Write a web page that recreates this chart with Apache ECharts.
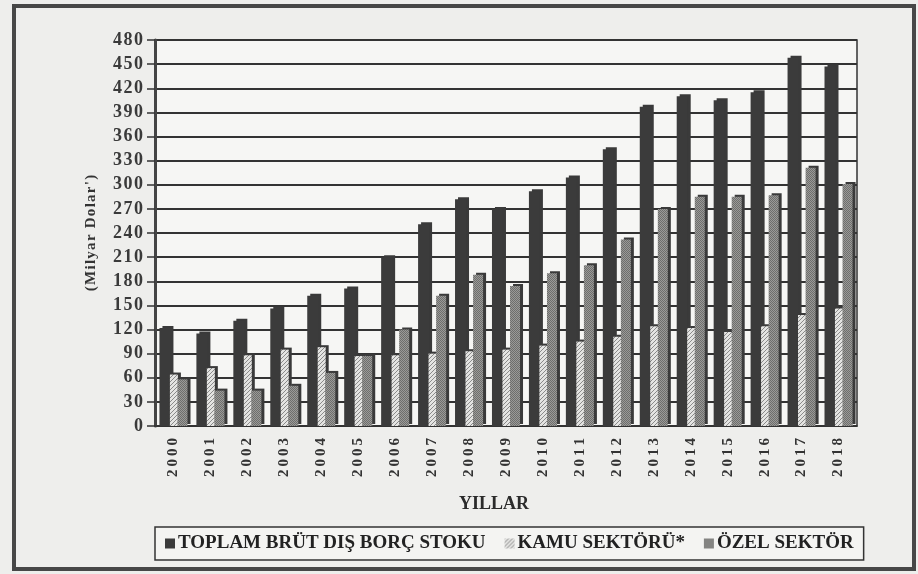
<!DOCTYPE html>
<html lang="tr">
<head>
<meta charset="utf-8">
<title>Dış Borç Stoku</title>
<script src="https://cdn.jsdelivr.net/npm/echarts@6/dist/echarts.min.js"></script>
<style>
  html, body { margin: 0; padding: 0; background: #eeeeec; }
  #chart { width: 918px; height: 574px; }
</style>
</head>
<body>
<div id="chart"></div>
<script>
var years = ['2000', '2001', '2002', '2003', '2004', '2005', '2006', '2007', '2008', '2009',
  '2010', '2011', '2012', '2013', '2014', '2015', '2016', '2017', '2018'];
var toplam = [122, 115, 131, 146, 162, 171, 210, 251, 282, 270, 292, 309, 344, 397, 410, 405, 415, 458, 447];
var kamu = [64, 72, 88, 95, 98, 87, 88, 90, 93, 95, 100, 105, 111, 124, 122, 117, 124, 138, 146];
var ozel = [58, 44, 44, 50, 66, 87, 120, 162, 188, 174, 190, 200, 232, 270, 285, 285, 287, 321, 301];
var yTicks = [0, 30, 60, 90, 120, 150, 180, 210, 240, 270, 300, 330, 360, 390, 420, 450, 480];

var serif = '"Liberation Serif", "DejaVu Serif", serif';

// spread letters a little, the scan has wide type
function spaced(s, sp) { return String(s).split('').join(sp); }

// hatched pattern for kamu bars
function stripes() {
  var c = document.createElement('canvas');
  c.width = 4; c.height = 4;
  var g = c.getContext('2d');
  g.fillStyle = '#e4e4e2';
  g.fillRect(0, 0, 4, 4);
  g.strokeStyle = '#8a8a8a';
  g.lineWidth = 1;
  g.beginPath();
  g.moveTo(0, 4); g.lineTo(4, 0);
  g.moveTo(-1, 1); g.lineTo(1, -1);
  g.moveTo(3, 5); g.lineTo(5, 3);
  g.stroke();
  return c;
}
// dotted grey for özel bars
function dots() {
  var c = document.createElement('canvas');
  c.width = 2; c.height = 2;
  var g = c.getContext('2d');
  g.fillStyle = '#9a9a98';
  g.fillRect(0, 0, 2, 2);
  g.fillStyle = '#6e6e6c';
  g.fillRect(0, 0, 1, 1);
  g.fillRect(1, 1, 1, 1);
  return c;
}

var chart = echarts.init(document.getElementById('chart'));
var shadow = { shadowColor: '#3a3a3a', shadowBlur: 0, shadowOffsetX: 3, shadowOffsetY: -2 };

chart.setOption({
  backgroundColor: '#eeeeec',
  animation: false,
  grid: {
    left: 155, right: 61, top: 40, bottom: 148,
    show: true, backgroundColor: '#f6f6f4', borderColor: '#333', borderWidth: 1.5
  },
  graphic: [
    { type: 'rect', shape: { x: 14, y: 6, width: 900, height: 563 },
      style: { fill: 'none', stroke: '#474747', lineWidth: 4 }, z: -1 },
    { type: 'text', x: 494, y: 504,
      style: { text: 'YILLAR', font: 'bold 18px ' + serif, fill: '#2b2b2b', align: 'center', verticalAlign: 'middle' } }
  ],
  legend: {
    left: 155, top: 527,
    padding: [7, 10],
    borderColor: '#333', borderWidth: 1.5,
    backgroundColor: '#f4f4f2',
    itemWidth: 10, itemHeight: 10, itemGap: 19,
    icon: 'rect',
    textStyle: { fontFamily: serif, fontWeight: 'bold', fontSize: 19, color: '#222', padding: [0, 0, 0, -2] }
  },
  xAxis: {
    type: 'category',
    data: years,
    axisLine: { lineStyle: { color: '#333', width: 1.5 } },
    axisTick: { length: 7, lineStyle: { color: '#333', width: 1.5 } },
    axisLabel: {
      rotate: 90, margin: 12,
      fontFamily: serif, fontWeight: 'bold', fontSize: 15, color: '#333',
      formatter: function (v) { return spaced(v, '\u2009'); }
    }
  },
  yAxis: {
    type: 'value',
    min: 0, max: 480, interval: 30,
    name: spaced("(Milyar Dolar')", '\u200A'),
    nameLocation: 'middle', nameRotate: 90, nameGap: 56,
    nameTextStyle: { fontFamily: serif, fontWeight: 'bold', fontSize: 15, color: '#333' },
    axisLine: { show: true, lineStyle: { color: '#444', width: 3 } },
    axisTick: { show: true, length: 8, lineStyle: { color: '#333', width: 1.5 } },
    axisLabel: {
      margin: 12, fontFamily: serif, fontWeight: 'bold', fontSize: 18, color: '#3a3a3a',
      formatter: function (v) { return yTicks.indexOf(v) >= 0 ? spaced(v, '\u200A') : ''; }
    },
    splitLine: { lineStyle: { color: '#333', width: 2 } }
  },
  series: [
    {
      name: 'TOPLAM BRÜT DIŞ BORÇ STOKU', type: 'bar', data: toplam,
      barWidth: 11, barGap: '-5%',
      itemStyle: Object.assign({ color: '#3b3b3b' }, shadow)
    },
    {
      name: 'KAMU SEKTÖRÜ*', type: 'bar', data: kamu,
      barWidth: 8, barGap: '-5%',
      itemStyle: Object.assign({ color: { image: stripes(), repeat: 'repeat' } }, shadow)
    },
    {
      name: 'ÖZEL SEKTÖR', type: 'bar', data: ozel,
      barWidth: 10, barGap: '-5%',
      itemStyle: Object.assign({ color: { image: dots(), repeat: 'repeat' } }, shadow)
    }
  ]
});
</script>
</body>
</html>
